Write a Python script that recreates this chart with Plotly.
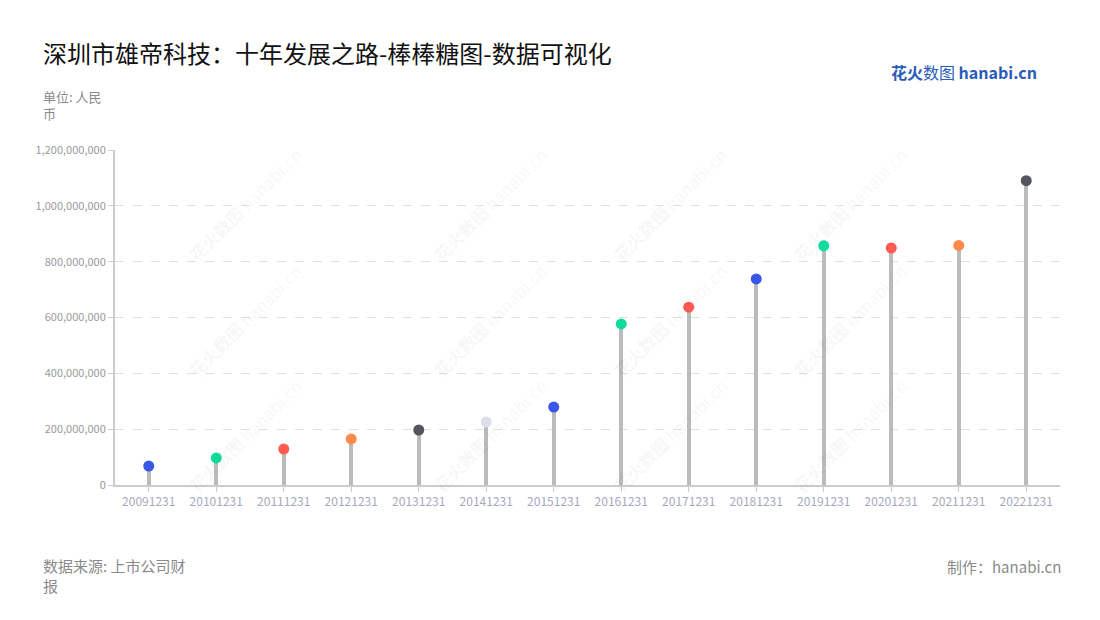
import plotly.graph_objects as go

categories = ["20091231", "20101231", "20111231", "20121231", "20131231", "20141231", "20151231",
              "20161231", "20171231", "20181231", "20191231", "20201231", "20211231", "20221231"]
values = [68e6, 97e6, 129e6, 165e6, 197e6, 226e6, 279e6,
          577e6, 637e6, 738e6, 857e6, 849e6, 858e6, 1090e6]
point_colors = ["#3a56e8", "#12dc9c", "#ff5b52", "#ff8a4c", "#55555f", "#dcdfe9", "#3a56e8",
                "#12dc9c", "#ff5b52", "#3a56e8", "#12dc9c", "#ff5b52", "#ff8a4c", "#55555f"]
y_ticks = [0, 200e6, 400e6, 600e6, 800e6, 1000e6, 1200e6]

FONT = "Noto Sans CJK SC, Noto Sans, sans-serif"

fig = go.Figure()
fig.add_trace(go.Bar(x=categories, y=values, width=0.06, marker=dict(color="#bbbbbb", line=dict(width=0)),
                     hoverinfo="skip", showlegend=False))
fig.add_trace(go.Scatter(x=categories, y=values, mode="markers",
                         marker=dict(size=11, color=point_colors, line=dict(width=0)), showlegend=False))

fig.update_layout(
    width=1084, height=604,
    margin=dict(l=107, r=32, t=142, b=127),
    paper_bgcolor="white", plot_bgcolor="white",
    font=dict(family=FONT),
    xaxis=dict(type="category", range=[-0.5, 13.5], showgrid=False,
               showline=True, linecolor="#cccccc", linewidth=2,
               ticks="outside", ticklen=5, tickcolor="#cccccc",
               tickfont=dict(size=12, color="#a5a9ba")),
    yaxis=dict(range=[0, 1.2e9], tickvals=y_ticks, tickformat=",d",
               showgrid=True, gridcolor="#e0e0e0", griddash="dash", gridwidth=1,
               showline=True, linecolor="#cccccc", linewidth=2,
               ticks="outside", ticklen=5, tickcolor="#cccccc",
               zeroline=False,
               tickfont=dict(size=11, color="#9a9a9a")),
    bargap=0,
)

# watermarks
for wx in [0.069, 0.328, 0.587, 0.846]:
    for wy in [1.03, 0.49, -0.045]:
        fig.add_annotation(xref="paper", yref="paper", x=wx, y=wy, text="<b>花火数图</b> hanabi.cn",
                           showarrow=False, textangle=-45, font=dict(size=17, color="rgba(0,0,0,0.05)"))

fig.add_annotation(xref="paper", yref="paper", x=-0.078, y=1.29, xanchor="left", yanchor="middle",
                   text="深圳市雄帝科技：十年发展之路-棒棒糖图-数据可视化", showarrow=False,
                   font=dict(size=24, color="#111111"))
fig.add_annotation(xref="paper", yref="paper", x=-0.078, y=1.133, xanchor="left", yanchor="middle",
                   text="单位: 人民<br>币", showarrow=False, align="left",
                   font=dict(size=13, color="#8a8a8a"))
fig.add_annotation(xref="paper", yref="paper", x=-0.078, y=-0.203, xanchor="left", yanchor="top",
                   text="数据来源: 上市公司财<br>报", showarrow=False, align="left",
                   font=dict(size=15, color="#8a8a8a"))
fig.add_annotation(xref="paper", yref="paper", x=1.003, y=-0.243, xanchor="right", yanchor="middle",
                   text="制作：hanabi.cn", showarrow=False,
                   font=dict(size=15, color="#8a8a8a"))
fig.add_annotation(xref="paper", yref="paper", x=0.978, y=1.233, xanchor="right", yanchor="middle",
                   text="<b>花火</b>数图 <b>hanabi.cn</b>", showarrow=False,
                   font=dict(size=16, color="#2a5bb8"))

fig.write_html("out.html")
